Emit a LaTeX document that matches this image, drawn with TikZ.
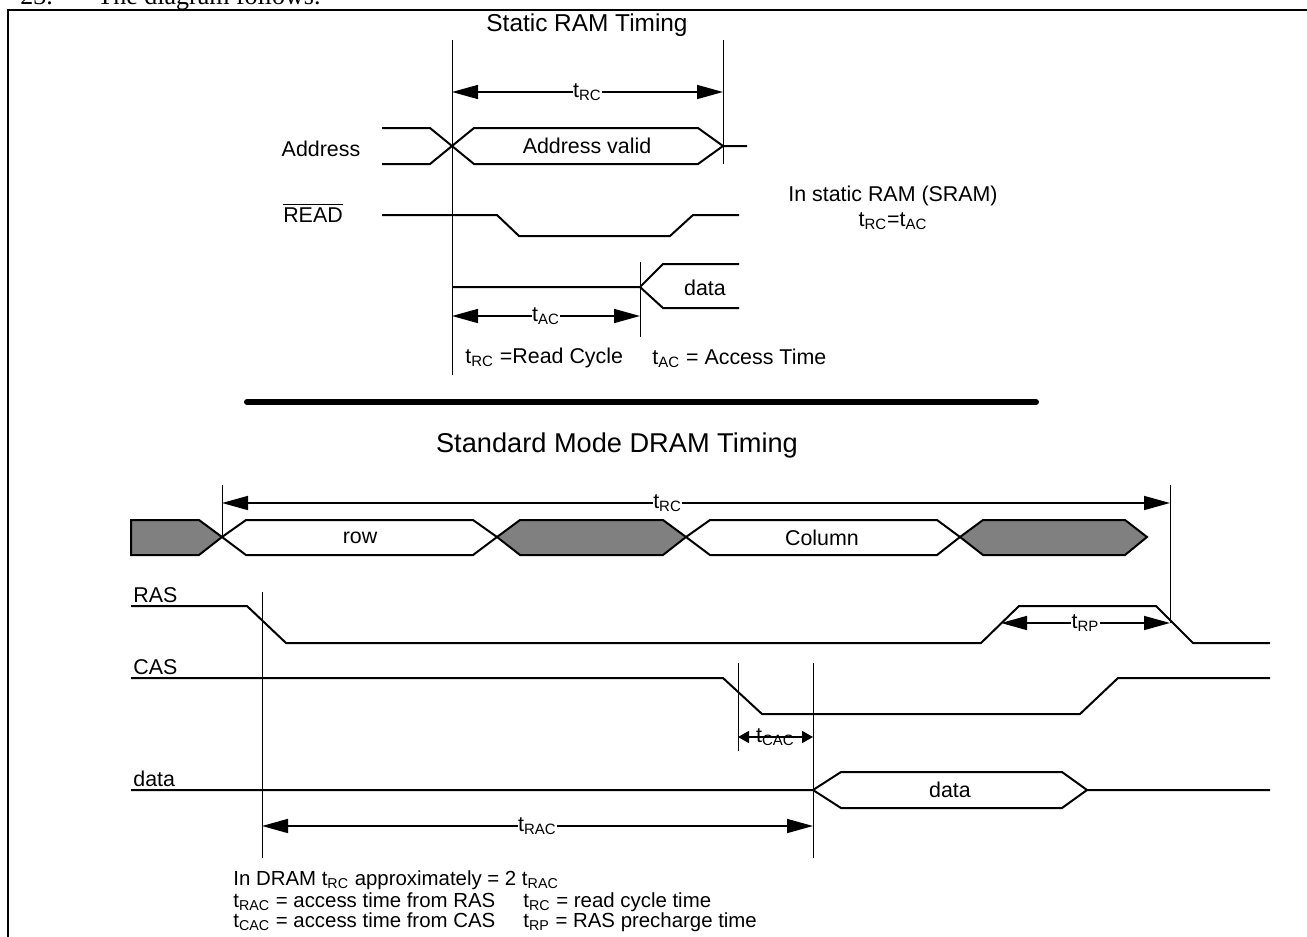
\documentclass[tikz,border=0pt]{standalone}
\usepackage{fontspec}
\setmainfont{Liberation Sans}
\newfontfamily\pagefont{Liberation Serif}
\usetikzlibrary{arrows.meta, positioning}
\definecolor{busgray}{RGB}{128,128,128}
\newcommand{\tsub}[1]{t\textsubscript{#1}}

\begin{document}
\begin{tikzpicture}[x=0.5pt,y=-0.5pt,>={Triangle[length=13pt,width=7pt]},
                every node/.style={font=\fontsize{10.7}{11.5}\selectfont, inner sep=0pt},
                signal/.style={line width=1pt},
                marker/.style={line width=0.5pt},
                span/.style={<->, line width=0.8pt},
                shortspan/.style={{Triangle[length=5.5pt,width=6pt]}-{Triangle[length=5.5pt,width=6pt]}, line width=0.8pt},
                spanlabel/.style={fill=white, inner sep=0.3pt},
                dontcare/.style={line width=1pt, fill=busgray},
                valid/.style={line width=1pt, fill=white},
                siglabel/.style={anchor=south west},
                note/.style={anchor=west, font=\fontsize{10.2}{11}\selectfont}
                ]
                \useasboundingbox (0,0) rectangle (1307,937);
                \clip (0,0) rectangle (1307,937);
                % page text and frame
                \node[anchor=base west, font=\pagefont\fontsize{13}{14}\selectfont] (num) at (20,4) {23.};
                \node[anchor=base west, font=\pagefont\fontsize{13}{14}\selectfont] (follows) at (97,4) {The diagram follows.};
                \draw[line width=1.3pt] (8,940) -- (8,10) -- (1310,10);

                % ---------- static RAM ----------
                \node[font=\fontsize{12.2}{13}\selectfont] (sramtitle) at (587,25) {Static RAM Timing};
                \coordinate (sLt) at (452,40);
                \coordinate (sLb) at (452,375);
                \coordinate (sRt) at (723,40);
                \coordinate (sRb) at (723,164);
                \coordinate (sAt) at (640,262);
                \coordinate (sAb) at (640,337);
                \draw[marker] (sLt) -- (sLb);
                \draw[marker] (sRt) -- (sRb);
                \draw[marker] (sAt) -- (sAb);
                \draw[span] (sLt |- 0,92) -- (sRt |- 0,92) node[spanlabel, midway] (trc) {\tsub{RC}};

                \node (addr) at (321,149) {Address};
                \draw[signal] (382,128) -- (430,128) -- (474,164) -- (698,164) -- (723,146) -- (747,146);
                \draw[signal] (382,164) -- (430,164) -- (474,128) -- (698,128) -- (723,146);
                \node (addrvalid) at (587,146) {Address valid};

                \node (rd) at (313,213) {$\overline{\mbox{READ}}$};
                \draw[signal] (382,215) -- (497,215) -- (519,236) -- (670,236) -- (693,215) -- (739,215);

                \draw[signal] (sLb |- 0,287) -- (sAt |- 0,287) -- (663,264) -- (739,264);
                \draw[signal] (sAt |- 0,287) -- (663,308) -- (739,308);
                \node (sdata) at (705,288) {data};
                \draw[span] (sLb |- 0,316) -- (sAb |- 0,316) node[spanlabel, midway] (tac) {\tsub{AC}};

                \node[anchor=west] (rcnote) at (465,358) {\tsub{RC} =Read Cycle};
                \node[anchor=west] (acnote) at (652,358) {\tsub{AC} = Access Time};
                \node[align=center] (sramnote) at (893,208) {In static RAM (SRAM)\\[1pt]\tsub{RC}=\tsub{AC}};

                \draw[line width=3pt, line cap=round] (247,402) -- (1036,402);

                % ---------- DRAM ----------
                \node[font=\fontsize{13.6}{14}\selectfont] (dramtitle) at (617,445) {Standard Mode DRAM Timing};
                \coordinate (dRowt) at (222,485);
                \coordinate (dRowb) at (222,537);
                \coordinate (dEndt) at (1170,485);
                \coordinate (dEndb) at (1170,623);
                \coordinate (dRast) at (262,592);
                \coordinate (dRasb) at (262,858);
                \coordinate (dCast) at (738,663);
                \coordinate (dCasb) at (738,751);
                \coordinate (dDatt) at (813,663);
                \coordinate (dDatb) at (813,858);
                \draw[marker] (dRowt) -- (dRowb);
                \draw[marker] (dEndt) -- (dEndb);
                \draw[marker] (dRast) -- (dRasb);
                \draw[marker] (dCast) -- (dCasb);
                \draw[marker] (dDatt) -- (dDatb);
                \draw[span] (dRowt |- 0,503) -- (dEndt |- 0,503) node[spanlabel, pos=0.47] (drc) {\tsub{RC}};

                % address bus
                \draw[dontcare] (131,520) -- (199,520) -- (222,537) -- (199,555) -- (131,555) -- cycle;
                \draw[valid] (222,537) -- (246,520) -- (473,520) -- (497,537) -- (473,555) -- (246,555) -- cycle;
                \draw[dontcare] (497,537) -- (520,520) -- (663,520) -- (686,537) -- (663,555) -- (520,555) -- cycle;
                \draw[valid] (686,537) -- (710,520) -- (937,520) -- (960,537) -- (937,555) -- (710,555) -- cycle;
                \draw[dontcare] (960,537) -- (983,520) -- (1125,520) -- (1147,537) -- (1125,555) -- (983,555) -- cycle;
                \node (row) at (360,538) {row};
                \node (col) at (822,538) {Column};

                % RAS
                \node[siglabel] (ras) at (133,603) {RAS};
                \draw[signal] (131,606) -- (247,606) -- (286,643) -- (981,643) -- (1019,606) -- (1156,606) -- (1193,643) -- (1270,643);
                \draw[span] (1001,623) -- (dEndb) node[spanlabel, midway] (trp) {\tsub{RP}};

                % CAS
                \node[siglabel] (cas) at (133,675) {CAS};
                \draw[signal] (131,678) -- (723,678) -- (762,714) -- (1080,714) -- (1118,678) -- (1270,678);
                \draw[shortspan] (dCast |- 0,737) -- (dDatt |- 0,737) node[spanlabel, midway, fill=none] (tcac) {\tsub{CAC}};

                % data
                \node[siglabel] (ddata) at (133,787) {data};
                \draw[signal] (131,790) -- (dDatt |- 0,790) -- (841,772) -- (1062,772) -- (1087,790) -- (1270,790);
                \draw[signal] (dDatt |- 0,790) -- (841,808) -- (1062,808) -- (1087,790);
                \node (dval) at (950,790) {data};
                \draw[span] (dRast |- 0,826) -- (dDatb |- 0,826) node[spanlabel, midway] (trac) {\tsub{RAC}};

                % notes
                \node[note] (note1) at (233,880) {In DRAM \tsub{RC} approximately = 2 \tsub{RAC}};
                \node[note] (note2) at (233,902) {\tsub{RAC} = access time from RAS};
                \node[note] (note3) at (233,922) {\tsub{CAC} = access time from CAS};
                \node[note] (note4) at (523,902) {\tsub{RC} = read cycle time};
                \node[note] (note5) at (523,922) {\tsub{RP} = RAS precharge time};
        \end{tikzpicture}
\end{document}
